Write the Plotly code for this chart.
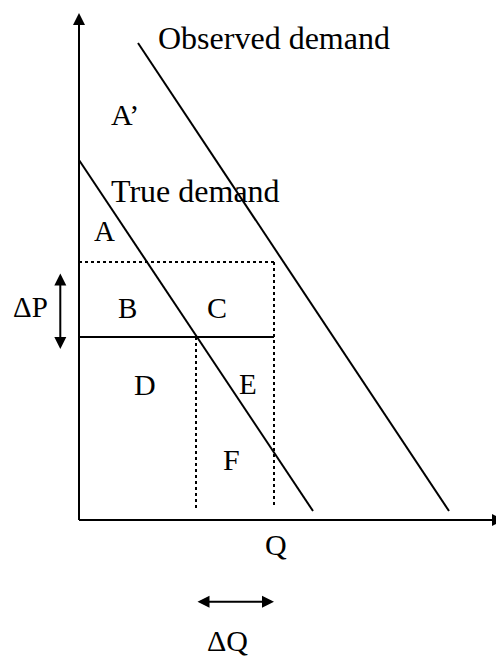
import plotly.graph_objects as go

# ---- diagram values (price / quantity units) ----
true_demand_q = [0.0, 23.4]
true_demand_p = [36.0, 0.9]
observed_demand_q = [5.9, 37.0]
observed_demand_p = [47.7, 0.9]

price_high = 25.8   # dotted price line
price_low = 18.3    # solid price line
qty_low = 11.7      # left dotted quantity
qty_high = 19.5     # right dotted quantity (Q)
floor_p = 1.2       # where dotted verticals stop

axis_top = 50.7
axis_right = 42.5

delta_p_x = -1.87
delta_p_range = [24.8, 17.1]
delta_q_y = -8.17

labels = ["Observed demand", "A\u2019", "True demand", "A", "B", "C", "\u0394P",
          "D", "E", "F", "Q", "\u0394Q"]
label_sizes = [32, 30, 32, 29, 29, 30, 29, 30, 29, 30, 30, 30]

FONT = "Liberation Serif, Times New Roman, serif"
BLACK = "#000000"

fig = go.Figure()

def seg(xs, ys, dash="solid", width=2):
    fig.add_trace(go.Scatter(x=xs, y=ys, mode="lines",
                             line=dict(color=BLACK, width=width, dash=dash),
                             hoverinfo="skip", showlegend=False))

# axes
seg([0, 0], [0, axis_top - 0.5])
seg([0, axis_right - 0.5], [0, 0])
# demand curves
seg(true_demand_q, true_demand_p)
seg(observed_demand_q, observed_demand_p)
# price lines
seg([0, qty_high], [price_low, price_low])
seg([0, qty_high], [price_high, price_high], dash="dot")
# quantity lines
seg([qty_high, qty_high], [price_high, floor_p], dash="dot")
seg([qty_low, qty_low], [price_low, floor_p], dash="dot")

annotations = []

def arrow(x, y, ax, ay, both=False):
    d = dict(x=x, y=y, ax=ax, ay=ay, xref="x", yref="y", axref="x", ayref="y",
             text="", showarrow=True, arrowhead=2, arrowsize=1.2, arrowwidth=2,
             arrowcolor=BLACK, standoff=0, startstandoff=0)
    if both:
        d.update(arrowside="end+start", startarrowhead=2, startarrowsize=1.2)
    annotations.append(d)

arrow(0, axis_top, 0, 40)
arrow(axis_right, 0, 30, 0)
arrow(delta_p_x, delta_p_range[1], delta_p_x, delta_p_range[0], both=True)
arrow(qty_high, delta_q_y, qty_low, delta_q_y, both=True)

label_pos = [
    (19.45, 48.25), (4.6, 40.6), (11.6, 32.95), (2.5, 28.95), (4.85, 21.25),
    (13.75, 21.25), (-4.85, 21.3), (6.55, 13.6), (16.9, 13.6), (15.2, 6.1),
    (19.7, -2.4), (14.8, -12.0),
]
for txt, size, (lx, ly) in zip(labels, label_sizes, label_pos):
    annotations.append(dict(x=lx, y=ly, xref="x", yref="y", text=txt,
                            showarrow=False, xanchor="center", yanchor="middle",
                            font=dict(family=FONT, size=size, color=BLACK)))

# page body has an 8px margin: size the figure to fit inside the window
fig.update_layout(
    width=496, height=651,
    margin=dict(l=0, r=0, t=0, b=0),
    paper_bgcolor="white", plot_bgcolor="white",
    xaxis=dict(range=[-7.1, 42.5], visible=False, fixedrange=True),
    yaxis=dict(range=[-13.9, 51.2], visible=False, fixedrange=True),
    annotations=annotations,
    showlegend=False,
)

fig.write_html("out.html")
